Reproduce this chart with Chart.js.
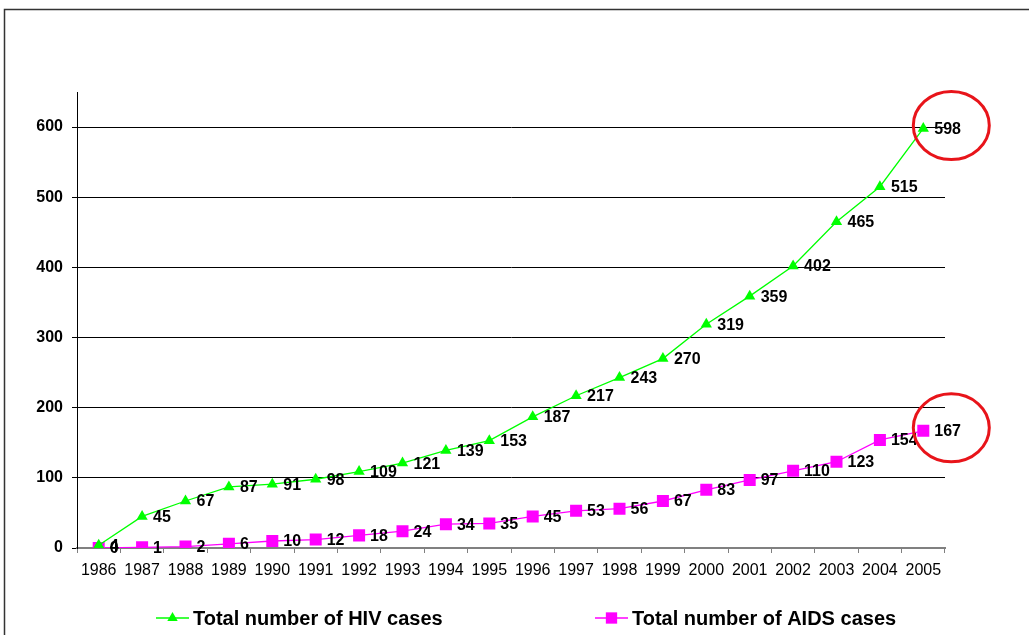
<!DOCTYPE html>
<html>
<head>
<meta charset="utf-8">
<script src="https://cdn.jsdelivr.net/npm/chart.js@4.4.1/dist/chart.umd.min.js"></script>
<style>
  html, body { margin: 0; padding: 0; background: #fff; }
  #c { display: block; }
</style>
</head>
<body>
<canvas id="c" width="1029" height="635"></canvas>
<script>
// Cumulative case counts per year
const years = ['1986','1987','1988','1989','1990','1991','1992','1993','1994','1995',
               '1996','1997','1998','1999','2000','2001','2002','2003','2004','2005'];
const hivCases  = [4, 45, 67, 87, 91, 98, 109, 121, 139, 153, 187, 217, 243, 270, 319, 359, 402, 465, 515, 598];
const aidsCases = [0, 1, 2, 6, 10, 12, 18, 24, 34, 35, 45, 53, 56, 67, 83, 97, 110, 123, 154, 167];
const yTickValues = [0, 100, 200, 300, 400, 500, 600];
const seriesNames = ['Total number of HIV cases', 'Total number of AIDS cases'];
const seriesColors = ['#00ff00', '#ff00ff'];

const FONT = '"Liberation Sans", Arial, sans-serif';

// White page with a thin frame around the chart
const framePlugin = {
  id: 'frame',
  beforeDraw(chart) {
    const ctx = chart.ctx;
    ctx.save();
    ctx.fillStyle = '#fff';
    ctx.fillRect(0, 0, chart.width, chart.height);
    ctx.strokeStyle = '#333';
    ctx.lineWidth = 1.5;
    ctx.strokeRect(4.5, 9.5, chart.width + 20, chart.height + 20);
    ctx.restore();
  }
};

// Value written to the right of every point
const valueLabelPlugin = {
  id: 'valueLabels',
  afterDatasetsDraw(chart) {
    const ctx = chart.ctx;
    ctx.save();
    ctx.font = 'bold 16px ' + FONT;
    ctx.fillStyle = '#000';
    ctx.textAlign = 'left';
    ctx.textBaseline = 'middle';
    chart.data.datasets.forEach((ds, i) => {
      const meta = chart.getDatasetMeta(i);
      meta.data.forEach((pt, j) => {
        ctx.fillText(String(ds.data[j]), pt.x + 11, pt.y + 1);
      });
    });
    ctx.restore();
  }
};

// Red rings around the latest value of each series
const ringPlugin = {
  id: 'rings',
  afterDraw(chart) {
    const ctx = chart.ctx;
    ctx.save();
    ctx.strokeStyle = '#e8141a';
    ctx.lineWidth = 3;
    chart.data.datasets.forEach((ds, i) => {
      const meta = chart.getDatasetMeta(i);
      const pt = meta.data[meta.data.length - 1];
      ctx.beginPath();
      ctx.ellipse(pt.x + 28, pt.y - 3, 38, 34, 0, 0, Math.PI * 2);
      ctx.stroke();
    });
    ctx.restore();
  }
};

// Legend drawn as line + marker samples below the axis
function drawMarker(ctx, style, x, y, r, color) {
  ctx.fillStyle = color;
  ctx.beginPath();
  if (style === 'triangle') {
    ctx.moveTo(x, y - r);
    ctx.lineTo(x + r * Math.sqrt(3) / 2, y + r / 2);
    ctx.lineTo(x - r * Math.sqrt(3) / 2, y + r / 2);
    ctx.closePath();
  } else {
    const s = r * Math.SQRT1_2;
    ctx.rect(x - s, y - s, 2 * s, 2 * s);
  }
  ctx.fill();
}
const legendPlugin = {
  id: 'lineLegend',
  afterDraw(chart) {
    const ctx = chart.ctx;
    const y = 618;
    const starts = [156, 595];
    ctx.save();
    ctx.font = 'bold 20px ' + FONT;
    ctx.textBaseline = 'middle';
    ctx.textAlign = 'left';
    chart.data.datasets.forEach((ds, i) => {
      const x0 = starts[i];
      ctx.strokeStyle = ds.borderColor;
      ctx.lineWidth = 1.5;
      ctx.beginPath();
      ctx.moveTo(x0, y);
      ctx.lineTo(x0 + 33, y);
      ctx.stroke();
      drawMarker(ctx, ds.pointStyle, x0 + 16.5, y, ds.pointStyle === 'triangle' ? 6 : 8, ds.backgroundColor);
      ctx.fillStyle = '#000';
      ctx.fillText(ds.label, x0 + 37, y + 1);
    });
    ctx.restore();
  }
};

new Chart(document.getElementById('c'), {
  type: 'line',
  data: {
    labels: years,
    datasets: [
      {
        label: seriesNames[0],
        data: hivCases,
        borderColor: seriesColors[0],
        backgroundColor: seriesColors[0],
        borderWidth: 1.3,
        pointStyle: 'triangle',
        pointRadius: 6.5,
        pointBorderWidth: 0,
        tension: 0
      },
      {
        label: seriesNames[1],
        data: aidsCases,
        borderColor: seriesColors[1],
        backgroundColor: seriesColors[1],
        borderWidth: 1.3,
        pointStyle: 'rect',
        pointRadius: 8.5,
        pointBorderWidth: 0,
        tension: 0
      }
    ]
  },
  options: {
    responsive: false,
    animation: false,
    devicePixelRatio: 1,
    layout: { padding: { left: 0, right: 84, top: 92, bottom: 52 } },
    plugins: {
      legend: { display: false },
      tooltip: { enabled: false }
    },
    scales: {
      x: {
        type: 'category',
        offset: true,
        grid: {
          offset: true,
          drawOnChartArea: false,
          drawTicks: true,
          tickLength: 5,
          color: '#808080',
          lineWidth: 1
        },
        border: { color: '#808080', width: 2 },
        ticks: {
          color: '#000',
          font: { family: FONT, size: 16 },
          padding: 8,
          maxRotation: 0,
          autoSkip: false
        },
        afterFit(scale) { scale.height = 35; }
      },
      y: {
        min: 0,
        max: 650,
        afterBuildTicks(scale) {
          scale.ticks = yTickValues.map(v => ({ value: v }));
        },
        grid: {
          color: '#000',
          lineWidth: 1,
          tickLength: 5,
          drawTicks: true
        },
        border: { color: '#000', width: 1 },
        ticks: {
          color: '#000',
          font: { family: FONT, size: 16, weight: 'bold' },
          padding: 9
        },
        afterFit(scale) { scale.width = 77; }
      }
    }
  },
  plugins: [framePlugin, valueLabelPlugin, ringPlugin, legendPlugin]
});
</script>
</body>
</html>
